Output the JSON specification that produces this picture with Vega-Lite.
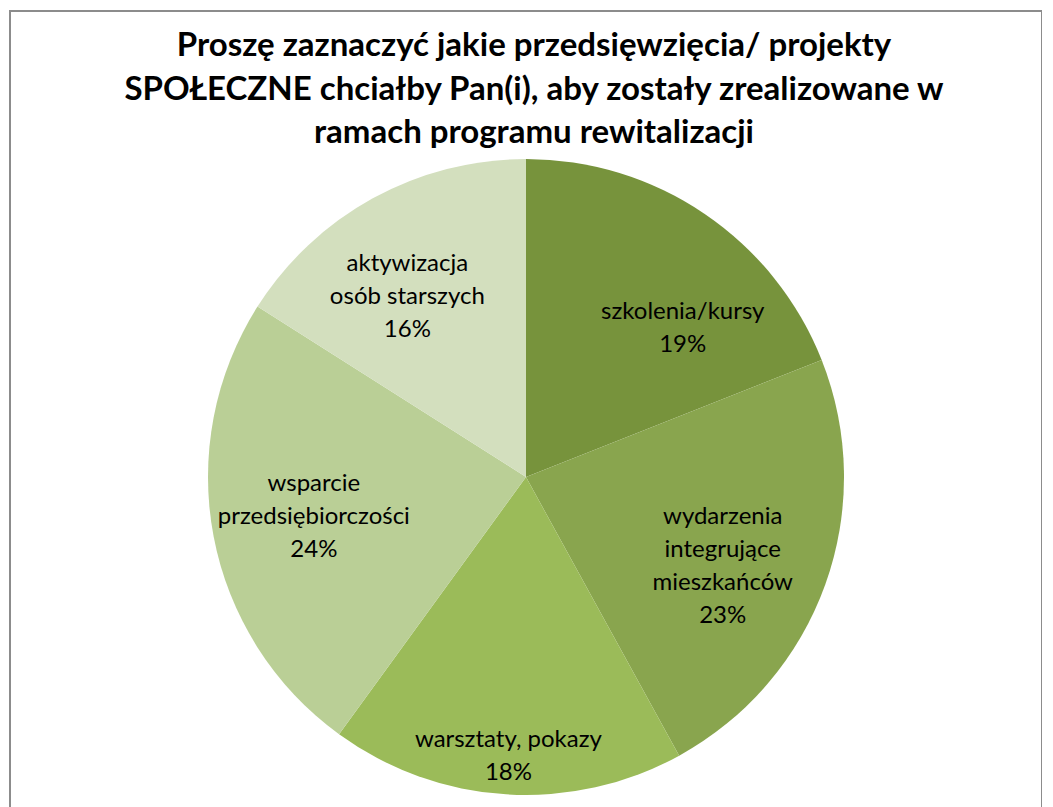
{
  "$schema": "https://vega.github.io/schema/vega-lite/v6.json",
  "autosize": {"type": "none"},
  "padding": {"left": 10, "top": 11, "right": 0, "bottom": 0},
  "width": 1032,
  "height": 932,
  "background": "white",
  "config": {"view": {"stroke": "#8c8c8c", "strokeWidth": 2}},
  "title": {
    "text": ["Proszę zaznaczyć jakie przedsięwzięcia/ projekty", "SPOŁECZNE chciałby Pan(i), aby zostały zrealizowane w", "ramach programu rewitalizacji"],
    "font": "Lato",
    "fontWeight": "bold",
    "fontSize": 33,
    "lineHeight": 43.5,
    "color": "black",
    "anchor": "middle",
    "offset": -139,
    "dx": 8
  },
  "data": {
    "values": [
      {"nr": 1, "kategoria": "szkolenia/kursy", "udzial": 19},
      {"nr": 2, "kategoria": "wydarzenia\nintegrujące\nmieszkańców", "udzial": 23},
      {"nr": 3, "kategoria": "warsztaty, pokazy", "udzial": 18},
      {"nr": 4, "kategoria": "wsparcie\nprzedsiębiorczości", "udzial": 24},
      {"nr": 5, "kategoria": "aktywizacja\nosób starszych", "udzial": 16}
    ]
  },
  "transform": [
    {"calculate": "datum.kategoria + '\\n' + datum.udzial + '%'", "as": "etykieta"}
  ],
  "layer": [
    {
      "mark": {"type": "rule", "opacity": 0},
      "encoding": {
        "x": {"datum": 0, "type": "quantitative", "axis": null}
      }
    },
    {
      "mark": {"type": "arc", "outerRadius": 318},
      "encoding": {
        "theta": {"field": "udzial", "type": "quantitative", "stack": true},
        "order": {"field": "nr", "type": "quantitative"},
        "color": {
          "field": "kategoria",
          "type": "nominal",
          "scale": {
            "domain": ["szkolenia/kursy", "wydarzenia\nintegrujące\nmieszkańców", "warsztaty, pokazy", "wsparcie\nprzedsiębiorczości", "aktywizacja\nosób starszych"],
            "range": ["#77933C", "#89A54E", "#9BBB59", "#BACF96", "#D3DFBE"]
          },
          "legend": null
        }
      }
    },
    {
      "mark": {
        "type": "text",
        "font": "Lato",
        "fontSize": 24,
        "lineHeight": 33,
        "lineBreak": "\n",
        "color": "black",
        "align": "center",
        "baseline": "middle",
        "radius": {"expr": "datum.nr === 3 ? 280 : 216"},
        "thetaOffset": {"expr": "datum.nr === 1 ? 0.215 : datum.nr === 2 ? 0.08 : datum.nr === 5 ? -0.079 : 0"},
        "dy": {"expr": "-(length(split(datum.etykieta, '\\n')) - 1) * 16.5"}
      },
      "encoding": {
        "theta": {"field": "udzial", "type": "quantitative", "stack": true},
        "order": {"field": "nr", "type": "quantitative"},
        "text": {"field": "etykieta", "type": "nominal"}
      }
    }
  ]
}
